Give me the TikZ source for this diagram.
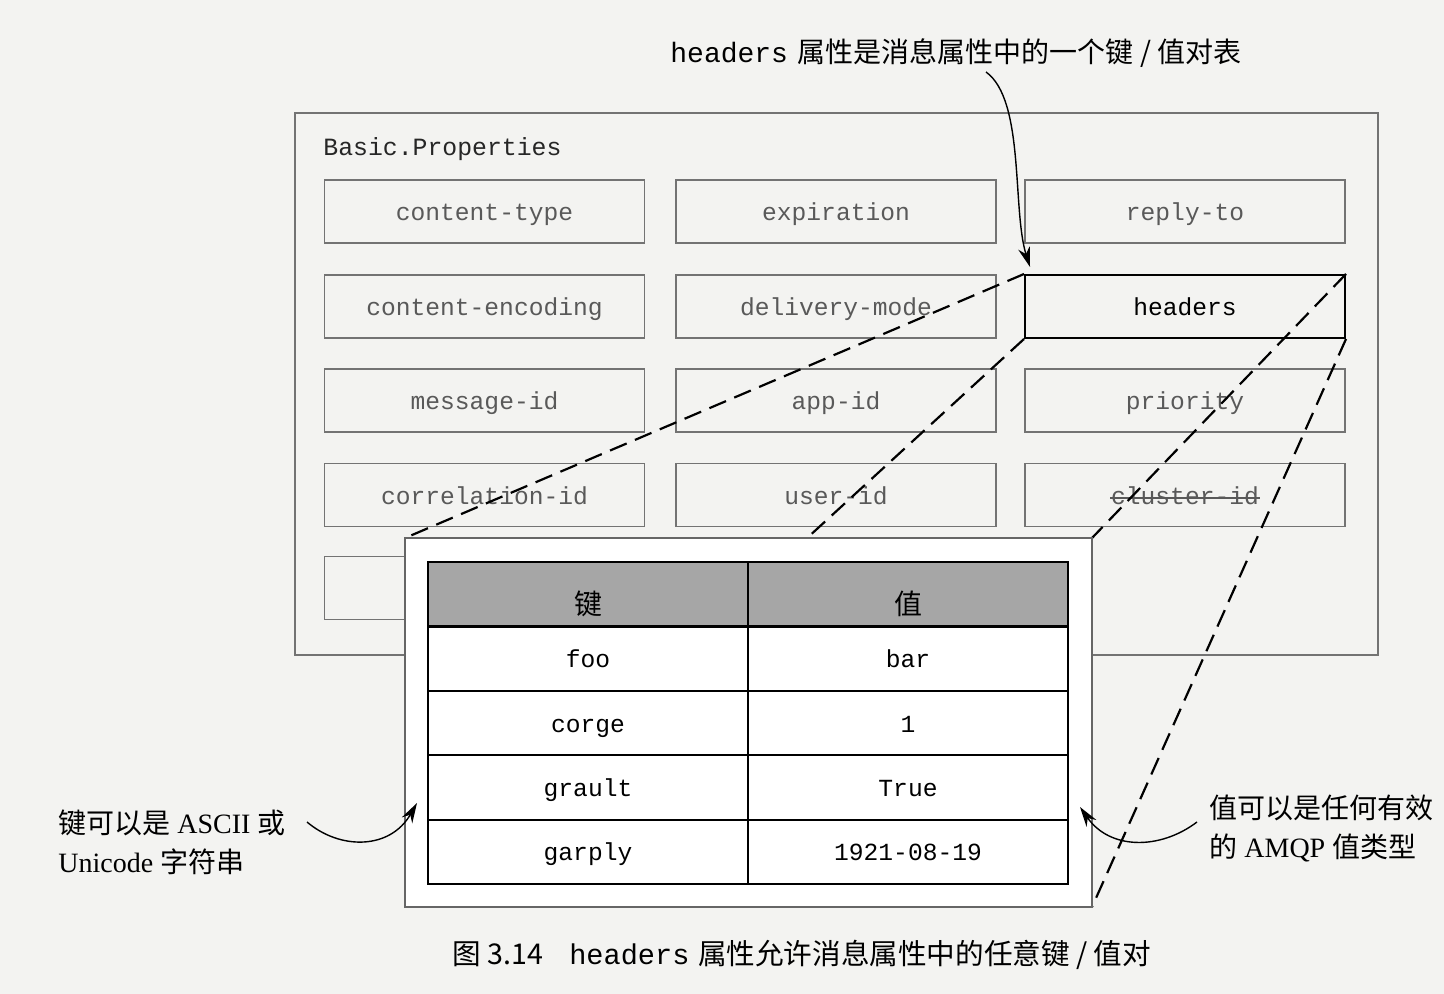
\documentclass[tikz,border=0pt]{standalone}
\usepackage{fontspec}
\setmainfont{Liberation Serif}
\setmonofont{Liberation Mono}
\newfontfamily\cjk{Noto Sans CJK SC}
\usetikzlibrary{calc,arrows.meta}
\definecolor{paper}{RGB}{243,243,241}
\tikzset{
  propbox/.style={draw=black!55, line width=0.6pt, minimum width=160pt, minimum height=31.5pt,
    inner sep=0pt, text height=9.5pt, text depth=0.5pt, text=black!65, font=\fontsize{12.3}{14}\selectfont\ttfamily},
  kvcell/.style={draw=black, line width=1.1pt, fill=white, minimum width=160pt, minimum height=32.2pt,
    inner sep=0pt, text height=9.5pt, text depth=0.5pt, font=\fontsize{12.3}{14}\selectfont\ttfamily},
  headcell/.style={kvcell, fill=black!35, text height=20pt, text depth=0pt, font=\fontsize{14}{16}\selectfont\cjk},
  zoomline/.style={line width=1.1pt, dash pattern=on 9pt off 4.5pt},
  noteline/.style={line width=0.7pt, -{Stealth[length=10pt,width=6pt]}},
  note/.style={inner sep=0pt, align=left, font=\fontsize{14}{19.5}\selectfont}
}

\begin{document}
\begin{tikzpicture}[x=0.5pt,y=-0.5pt]
			%%%%% PAGE %%%%%
			\fill[paper] (0,0) rectangle (1444,994);
			\useasboundingbox (0,0) rectangle (1444,994);
			
			%%%%% Basic.Properties %%%%%
			\draw[black!55, line width=0.6pt] (295,113) rectangle (1378,655);
			\node[anchor=west, inner sep=0pt, text=black!85, font=\fontsize{12.4}{14}\selectfont\ttfamily] (basic) at (323,149) {Basic.Properties};
			
			\node[propbox] (ctype) at (484.5,211.5) {content-type};
			\node[propbox] (expir) at (836,211.5) {expiration};
			\node[propbox] (reply) at (1185,211.5) {reply-to};
			
			\node[propbox] (cenc) at (484.5,306.5) {content-encoding};
			\node[propbox] (dmode) at (836,306.5) {delivery-mode};
			\node[propbox, draw=black, line width=1pt, text=black] (hdrs) at (1185,306.5) {headers};
			
			\node[propbox] (msgid) at (484.5,400.5) {message-id};
			\node[propbox] (appid) at (836,400.5) {app-id};
			\node[propbox] (prio) at (1185,400.5) {priority};
			
			\node[propbox] (corrid) at (484.5,495) {correlation-id};
			\node[propbox] (userid) at (836,495) {user-id};
			\node[propbox] (clusid) at (1185,495) {cluster-id};
			\draw[black!65, line width=0.8pt] ($(clusid.center)+(-75,3)$) -- ($(clusid.center)+(75,3)$);
			
			\node[propbox] (spare) at (484.5,588) {};
			
			%%%%% ZOOM %%%%%
			\path node[minimum width=343.5pt, minimum height=184.5pt, inner sep=0pt, outer sep=0pt] (zoom) at (748.5,722.5) {};
			
			\draw[zoomline] (hdrs.north west) -- (zoom.north west);
			\draw[zoomline] (hdrs.south west) -- (zoom.south west);
			\draw[zoomline] (hdrs.north east) -- (zoom.north east);
			\draw[zoomline] (hdrs.south east) -- (zoom.south east);
			
			\draw[black!60, line width=0.6pt, fill=white] (zoom.north west) rectangle (zoom.south east);
			
			\node[headcell] (khead) at (588,594.2) {键};
			\node[headcell] (vhead) at (908,594.2) {值};
			\node[kvcell] (k1) at (588,658.6) {foo};
			\node[kvcell] (v1) at (908,658.6) {bar};
			\node[kvcell] (k2) at (588,723) {corge};
			\node[kvcell] (v2) at (908,723) {1};
			\node[kvcell] (k3) at (588,787.4) {grault};
			\node[kvcell] (v3) at (908,787.4) {True};
			\node[kvcell] (k4) at (588,851.8) {garply};
			\node[kvcell] (v4) at (908,851.8) {1921-08-19};
			
			%%%%% NOTES %%%%%
			\node[note, anchor=west, font=\fontsize{14}{16}\selectfont] (topnote) at (670,53) {{\ttfamily headers}\hspace{0.35em}{\cjk 属性是消息属性中的一个键 / 值对表}};
			\coordinate (topfrom) at (986,72);
			\draw[noteline] (topfrom) .. controls (1025,100) and (1012,210) .. ($(hdrs.north west)+(6,-7)$);
			
			\node[note, anchor=west] (keynote) at (58,842) {{\cjk 键可以是} ASCII {\cjk 或}\\Unicode {\cjk 字符串}};
			\coordinate (keyfrom) at (307,822);
			\coordinate (keytip) at (417,803);
			\draw[noteline] (keyfrom) .. controls (340,850) and (390,850) .. (keytip);
			
			\node[note, anchor=west] (valnote) at (1209,828) {{\cjk 值可以是任何有效}\\{\cjk 的} AMQP {\cjk 值类型}};
			\coordinate (valfrom) at (1197,822);
			\coordinate (valtip) at (1080,807);
			\draw[noteline] (valfrom) .. controls (1160,850) and (1110,850) .. (valtip);
			
			%%%%% CAPTION %%%%%
			\node[inner sep=0pt, font=\fontsize{14.3}{16}\selectfont] (caption) at (802,955) {{\cjk 图 3.14}\hspace{0.9em}{\ttfamily headers}\hspace{0.3em}{\cjk 属性允许消息属性中的任意键 / 值对}};
\end{tikzpicture}
\end{document}
